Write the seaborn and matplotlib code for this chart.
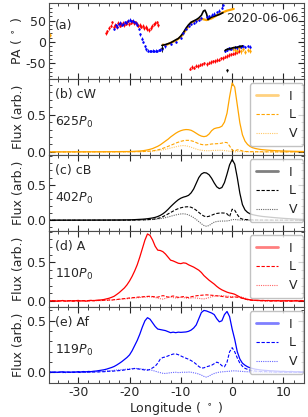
import numpy as np
import pandas as pd
import seaborn as sns
import matplotlib.pyplot as plt
from matplotlib.lines import Line2D
from matplotlib.ticker import MultipleLocator

sns.set_theme(style='ticks', rc={'xtick.direction': 'in', 'ytick.direction': 'in',
                                 'xtick.top': True, 'ytick.right': True,
                                 'xtick.minor.visible': True, 'ytick.minor.visible': True,
                                 'axes.unicode_minus': False})
plt.rcParams['font.family'] = ['DejaVu Sans']

# ---------------- PA (panel a) ----------------
red_lon = [-24.5, -24.3, -24.0, -23.7, -23.4, -23.1, -22.8, -22.5, -22.2, -21.9, -21.6, -21.3, -21.0,
           -20.7, -20.4, -20.1, -19.8, -19.5, -19.2, -18.9, -18.6, -18.3, -18.0, -17.7, -17.4, -17.1,
           -16.8, -16.5, -16.2, -15.9, -15.6, -15.3, -15.0, -14.7, -14.4,
           -8.2, -7.8, -7.4, -7.0, -6.6, -6.2, -5.8, -5.4, -5.0, -4.6, -4.2, -3.8, -3.4, -3.0, -2.6,
           -2.2, -1.8, -1.4, -1.0, -0.6, -0.2, 0.2, 0.6, 1.0, 1.4]
red_pa = [20, 25, 33, 38, 46, 36, 40, 35, 44, 38, 42, 45, 40, 43, 47, 42, 45, 48, 44, 46, 42, 38,
          40, 36, 38, 32, 35, 30, 28, 33, 38, 41, 44, 46, 40,
          -62, -58, -60, -55, -56, -53, -52, -50, -51, -48, -47, -45, -44, -42, -41, -38, -37, -34,
          -33, -30, -29, -27, -26, -24, -22]
blue_lon = [-23.0, -22.7, -22.4, -22.1, -21.8, -21.5, -21.2, -20.9, -20.6, -20.3, -20.0, -19.7, -19.4,
            -19.1, -18.8, -18.5, -18.2, -17.9, -17.6, -17.3, -17.0, -16.7, -16.4, -16.1, -15.8, -15.5,
            -15.2, -14.9, -14.6, -14.3, -14.0, -13.7, -13.0, -12.0, -11.0, -10.0, -9.5, -9.0, -8.5,
            -8.0, -7.5, -7.0, -6.5, -6.0, -5.0, -4.5, -4.0, -3.5, -3.0, -2.5, -2.0, -1.8,
            -1.4, -1.0, -0.6, -0.2, 0.2, 0.6, 1.0, 1.4, 1.8, 2.2, 2.6, 3.0, 3.4]
blue_pa = [30, 40, 36, 42, 45, 40, 43, 47, 45, 50, 52, 48, 50, 46, 45, 40, 30, 18, 8, 0, -10, -17,
           -20, -21, -21, -20, -21, -20, -21, -19, -18, -16, -10, -5, 0, 10, 20, 30, 38, 42, 45,
           48, 51, 55, 58, 60, 64, 66, 70, 73, 80, 86,
           -20, -18, -15, -16, -14, -12, -14, -10, -12, -10, -12, -9, -11]
black_hi_lon = [-13.7, -13.0, -12.0, -11.0, -10.5, -10.0, -9.5, -9.0, -8.5, -8.0, -7.5, -7.0, -6.5,
                -6.0, -5.6, -5.3, -5.0, -4.7, -4.4, -4.0, -3.5, -3.0, -2.5, -2.0, -1.8]
black_hi_pa = [-8, -6, -2, 5, 8, 14, 22, 32, 40, 46, 49, 52, 56, 62, 72, 74, 66, 52, 55, 58, 60,
               62, 64, 67, 68]
black_lo_lon = [-1.4, -1.0, -0.5, 0.0, 0.5, 1.0, 1.5, 2.0]
black_lo_pa = [-20, -17, -16, -14, -13, -12, -11, -9]
black_pt_lon = [-13.7, -1.0]
black_pt_pa = [-15, -66]
orange_hi_lon = [-13.5, -13.0, -12.0, -11.0, -10.0, -9.0, -8.0, -7.0, -6.0, -5.0, -4.0, -3.0,
                 -2.0, -1.0, 0.0, 0.3]
orange_hi_pa = [-6, -8, -2, 3, 12, 28, 45, 50, 54, 51, 55, 62, 68, 73, 76, 77]
orange_lo_lon = [-35.5, 0.2, 0.6, 1.0, 1.4, 1.8, 2.2, 2.6, 3.0, 3.4]
orange_lo_pa = [16, -15, -18, -20, -13, -22, -17, -24, -19, -20]

# ---------------- profiles (b, c) ----------------
lon_bc = [-36, -30, -25, -22] + list(np.arange(-20, 6.01, 0.5)) + [7, 8, 10, 12, 14]

cw_I = [0.0, 0.001, 0.002, 0.004,
        0.005, 0.006, 0.008, 0.01, 0.012, 0.015, 0.02, 0.027, 0.035, 0.045,
        0.06, 0.075, 0.095, 0.12, 0.145, 0.17, 0.2, 0.225, 0.25, 0.27,
        0.285, 0.295, 0.3, 0.298, 0.29, 0.272, 0.25, 0.228, 0.212, 0.205,
        0.212, 0.24, 0.285, 0.312, 0.322, 0.328, 0.345, 0.4, 0.52, 0.74,
        0.925, 0.87, 0.63, 0.39, 0.23, 0.145, 0.1, 0.072, 0.056, 0.046,
        0.039, 0.033, 0.029,
        0.023, 0.018, 0.012, 0.008, 0.005]
cw_L = [0.0, 0.0, 0.001, 0.001,
        0.002, 0.002, 0.003, 0.003, 0.004, 0.005, 0.006, 0.008, 0.01, 0.014,
        0.02, 0.027, 0.036, 0.048, 0.06, 0.074, 0.088, 0.102, 0.118, 0.13,
        0.142, 0.15, 0.155, 0.155, 0.15, 0.14, 0.125, 0.11, 0.1, 0.094,
        0.095, 0.1, 0.106, 0.108, 0.11, 0.112, 0.118, 0.128, 0.125, 0.08,
        0.025, 0.012, 0.028, 0.025, 0.012, 0.006, 0.004, 0.003, 0.003, 0.002,
        0.002, 0.002, 0.001,
        0.001, 0.001, 0.0, 0.0, 0.0]
cw_V = [0.0, 0.0, 0.0, 0.0,
        0.001, 0.001, 0.002, 0.002, 0.003, 0.004, 0.005, 0.006, 0.008, 0.01,
        0.013, 0.017, 0.022, 0.028, 0.035, 0.043, 0.052, 0.06, 0.068, 0.076,
        0.082, 0.085, 0.082, 0.074, 0.062, 0.05, 0.038, 0.028, 0.022, 0.018,
        0.016, 0.016, 0.018, 0.02, 0.021, 0.022, 0.021, 0.018, 0.014, 0.008,
        0.003, 0.001, 0.004, 0.006, 0.004, 0.002, 0.001, 0.001, 0.0, 0.0,
        0.0, 0.0, 0.0,
        0.0, 0.0, 0.0, 0.0, 0.0]

cb_I = [0.0, 0.001, 0.002, 0.003,
        0.005, 0.006, 0.008, 0.01, 0.012, 0.014, 0.017, 0.021, 0.026, 0.032,
        0.04, 0.052, 0.068, 0.09, 0.118, 0.152, 0.19, 0.225, 0.258, 0.288,
        0.31, 0.325, 0.335, 0.35, 0.385, 0.44, 0.52, 0.6, 0.65, 0.67,
        0.665, 0.64, 0.59, 0.525, 0.47, 0.445, 0.46, 0.53, 0.65, 0.78,
        0.855, 0.79, 0.6, 0.38, 0.22, 0.145, 0.11, 0.09, 0.078, 0.07,
        0.063, 0.057, 0.052,
        0.045, 0.038, 0.026, 0.017, 0.011]
cb_L = [0.0, 0.0, 0.001, 0.001,
        0.001, 0.002, 0.002, 0.003, 0.004, 0.005, 0.006, 0.008, 0.01, 0.013,
        0.018, 0.025, 0.035, 0.05, 0.068, 0.088, 0.108, 0.128, 0.148, 0.163,
        0.175, 0.183, 0.188, 0.19, 0.182, 0.165, 0.14, 0.11, 0.08, 0.058,
        0.048, 0.055, 0.07, 0.085, 0.095, 0.1, 0.102, 0.1, 0.09, 0.05,
        0.155, 0.14, 0.08, 0.03, 0.015, 0.01, 0.007, 0.005, 0.004, 0.003,
        0.003, 0.002, 0.002,
        0.002, 0.001, 0.001, 0.0, 0.0]
cb_V = [0.0, 0.0, 0.0, 0.0,
        0.001, 0.001, 0.002, 0.002, 0.003, 0.004, 0.005, 0.006, 0.008, 0.01,
        0.013, 0.017, 0.022, 0.028, 0.036, 0.045, 0.055, 0.065, 0.074, 0.082,
        0.088, 0.09, 0.086, 0.075, 0.058, 0.036, 0.01, -0.02, -0.05, -0.075,
        -0.085, -0.075, -0.05, -0.028, -0.018, -0.014, -0.012, -0.012, -0.01, -0.004,
        0.008, 0.01, 0.006, 0.003, 0.002, 0.001, 0.001, 0.0, 0.0, 0.0,
        0.0, 0.0, 0.0,
        0.0, 0.0, 0.0, 0.0, 0.0]

# ---------------- profiles (d, e) ----------------
lon_de = np.arange(-36, 14.01, 0.5)

a_I = [0.004, -0.002, 0.006, 0.001, -0.004, 0.003, 0.007, -0.001, 0.002, 0.005,
       -0.003, 0.004, 0.008, 0.001, 0.005, -0.002, 0.006, 0.009, 0.004, 0.01,
       0.012, 0.015, 0.02, 0.028, 0.036, 0.048, 0.062, 0.085, 0.11, 0.14,
       0.17, 0.21, 0.26, 0.32, 0.39, 0.47, 0.57, 0.68, 0.79, 0.87,
       0.85, 0.79, 0.71, 0.66, 0.655, 0.64, 0.61, 0.57, 0.53, 0.52,
       0.505, 0.49, 0.485, 0.495, 0.49, 0.47, 0.455, 0.44, 0.42, 0.4,
       0.37, 0.33, 0.3, 0.27, 0.245, 0.22, 0.19, 0.165, 0.145, 0.13,
       0.115, 0.105, 0.098, 0.088, 0.07, 0.052, 0.038, 0.028, 0.02, 0.016,
       0.012, 0.009, 0.011, 0.006, 0.008, 0.004, 0.007, 0.002, 0.005, 0.003,
       0.006, -0.001, 0.004, 0.002, 0.005, -0.003, 0.003, 0.006, 0.0, 0.004,
       0.002]
a_L = [0.003, 0.006, -0.002, 0.004, 0.007, 0.0, 0.005, -0.003, 0.004, 0.002,
       0.006, 0.001, -0.002, 0.005, 0.003, 0.007, 0.002, 0.004, 0.008, 0.005,
       0.009, 0.006, 0.011, 0.008, 0.014, 0.012, 0.018, 0.02, 0.024, 0.028,
       0.032, 0.035, 0.04, 0.043, 0.046, 0.05, 0.052, 0.055, 0.058, 0.06,
       0.062, 0.058, 0.055, 0.05, 0.062, 0.07, 0.064, 0.05, 0.058, 0.066,
       0.055, 0.048, 0.052, 0.058, 0.05, 0.046, 0.055, 0.062, 0.068, 0.072,
       0.075, 0.078, 0.08, 0.078, 0.075, 0.072, 0.068, 0.065, 0.06, 0.055,
       0.05, 0.048, 0.05, 0.053, 0.05, 0.045, 0.035, 0.025, 0.018, 0.012,
       0.008, 0.01, 0.005, 0.007, 0.002, 0.006, 0.004, 0.001, 0.005, 0.003,
       0.004, 0.0, 0.006, 0.002, -0.001, 0.005, 0.003, 0.001, 0.004, 0.002,
       0.003]
a_V = [-0.003, 0.002, 0.005, -0.001, 0.003, -0.004, 0.001, 0.004, -0.002, 0.003,
       0.0, 0.005, -0.003, 0.002, 0.004, -0.001, 0.003, 0.006, 0.001, 0.004,
       0.006, 0.005, 0.009, 0.01, 0.013, 0.012, 0.016, 0.018, 0.022, 0.025,
       0.028, 0.03, 0.034, 0.037, 0.04, 0.042, 0.046, 0.048, 0.05, 0.053,
       0.055, 0.05, 0.045, 0.038, 0.03, 0.025, 0.035, 0.048, 0.052, 0.045,
       0.04, 0.042, 0.05, 0.045, 0.038, 0.035, 0.04, 0.044, 0.038, 0.035,
       0.03, 0.028, 0.035, 0.045, 0.055, 0.062, 0.066, 0.068, 0.07, 0.068,
       0.065, 0.06, 0.056, 0.055, 0.052, 0.056, 0.05, 0.04, 0.028, 0.018,
       0.012, 0.008, 0.006, 0.002, 0.005, -0.001, 0.004, 0.002, -0.002, 0.003,
       0.001, 0.004, -0.002, 0.003, 0.0, 0.002, -0.003, 0.004, 0.001, 0.002,
       0.0]

af_I = [0.003, 0.006, 0.002, 0.005, 0.001, 0.004, 0.007, 0.003, 0.005, 0.002,
        0.006, 0.004, 0.008, 0.005, 0.009, 0.006, 0.01, 0.008, 0.012, 0.014,
        0.018, 0.022, 0.026, 0.032, 0.04, 0.048, 0.058, 0.072, 0.088, 0.105,
        0.125, 0.145, 0.17, 0.21, 0.26, 0.31, 0.37, 0.44, 0.5, 0.53,
        0.515, 0.48, 0.445, 0.42, 0.415, 0.41, 0.405, 0.395, 0.385, 0.39,
        0.385, 0.39, 0.388, 0.39, 0.392, 0.398, 0.41, 0.43, 0.46, 0.52,
        0.58, 0.6, 0.595, 0.585, 0.575, 0.56, 0.52, 0.49, 0.5, 0.56,
        0.59, 0.54, 0.42, 0.32, 0.2, 0.13, 0.09, 0.07, 0.055, 0.045,
        0.038, 0.032, 0.028, 0.025, 0.022, 0.02, 0.018, 0.016, 0.015, 0.013,
        0.012, 0.01, 0.011, 0.009, 0.008, 0.01, 0.007, 0.006, 0.008, 0.005,
        0.006]
af_L = [0.002, -0.001, 0.003, 0.0, 0.002, 0.004, -0.001, 0.002, 0.001, 0.003,
        0.0, 0.003, 0.002, -0.001, 0.004, 0.002, 0.003, 0.005, 0.004, 0.006,
        0.005, 0.008, 0.007, 0.01, 0.012, 0.011, 0.014, 0.016, 0.018, 0.02,
        0.024, 0.028, 0.03, 0.034, 0.038, 0.035, 0.032, 0.028, 0.024, 0.022,
        0.03, 0.045, 0.06, 0.09, 0.13, 0.145, 0.15, 0.16, 0.17, 0.178,
        0.18, 0.172, 0.16, 0.148, 0.138, 0.128, 0.115, 0.1, 0.08, 0.058,
        0.042, 0.045, 0.055, 0.062, 0.07, 0.085, 0.1, 0.09, 0.065, 0.055,
        0.1, 0.2, 0.24, 0.2, 0.14, 0.09, 0.06, 0.04, 0.03, 0.022,
        0.018, 0.014, 0.012, 0.01, 0.008, 0.009, 0.006, 0.007, 0.005, 0.004,
        0.005, 0.003, 0.004, 0.002, 0.003, 0.001, 0.003, 0.002, 0.0, 0.002,
        0.001]
af_V = [0.001, -0.002, 0.002, 0.0, -0.001, 0.003, 0.001, -0.002, 0.002, 0.0,
        0.002, 0.001, 0.003, 0.0, 0.004, 0.002, 0.005, 0.004, 0.006, 0.007,
        0.008, 0.01, 0.012, 0.014, 0.016, 0.018, 0.021, 0.024, 0.026, 0.028,
        0.03, 0.032, 0.035, 0.038, 0.04, 0.038, 0.036, 0.034, 0.03, 0.028,
        0.025, 0.02, 0.012, 0.005, -0.002, -0.008, -0.01, -0.006, -0.002, 0.0,
        0.002, -0.001, 0.0, 0.003, 0.001, 0.004, 0.002, -0.003, -0.008, -0.015,
        -0.025, -0.038, -0.045, -0.035, -0.02, -0.01, -0.002, 0.003, 0.006, 0.008,
        0.01, 0.012, 0.015, 0.016, 0.014, 0.012, 0.01, 0.008, 0.007, 0.006,
        0.005, 0.004, 0.006, 0.003, 0.004, 0.002, 0.003, 0.001, 0.002, 0.0,
        0.001, 0.002, 0.0, 0.001, -0.001, 0.002, 0.0, 0.001, 0.0, 0.001,
        0.0]

panels = [
    ('(b) cW', '625$P_0$', 'orange', lon_bc, cw_I, cw_L, cw_V, (-0.04, 0.98)),
    ('(c) cB', '402$P_0$', 'black', lon_bc, cb_I, cb_L, cb_V, (-0.15, 0.92)),
    ('(d) A', '110$P_0$', 'red', lon_de, a_I, a_L, a_V, (-0.075, 0.91)),
    ('(e) Af', '119$P_0$', 'blue', lon_de, af_I, af_L, af_V, (-0.1, 0.635)),
]
fs = 9

fig, axes = plt.subplots(5, 1, figsize=(3.08, 4.17), dpi=100, sharex=True)
fig.subplots_adjust(left=0.159, right=0.987, top=0.993, bottom=0.082, hspace=0)

# panel a
ax = axes[0]
ekw = dict(fmt='.', ms=1.5, elinewidth=0.6, capsize=0)
ax.errorbar(red_lon, red_pa, yerr=4, color='red', **ekw)
ax.errorbar(blue_lon, blue_pa, yerr=3, color='blue', **ekw)
ax.errorbar(orange_lo_lon, orange_lo_pa, yerr=5, color='orange', **ekw)
ax.errorbar(black_lo_lon, black_lo_pa, yerr=3, color='black', fmt='-', lw=1.2, elinewidth=0.6)
ax.errorbar(black_pt_lon, black_pt_pa, yerr=[8, 4], color='black', **ekw)
sns.lineplot(x=orange_hi_lon, y=orange_hi_pa, color='orange', lw=1.6, ax=ax)
sns.lineplot(x=black_hi_lon, y=black_hi_pa, color='black', lw=1.2, ax=ax)
ax.set_ylim(-86, 91)
ax.set_ylabel('PA ( $^\\circ$ )', fontsize=fs, labelpad=1)
ax.set_yticks([-50, 0, 50])
ax.yaxis.set_minor_locator(MultipleLocator(10))
ax.text(0.025, 0.7, '(a)', transform=ax.transAxes, fontsize=fs, va='center')
ax.text(0.978, 0.8, '2020-06-06', transform=ax.transAxes, fontsize=fs, va='center', ha='right')

for ax, (lab, npl, col, lon, I, L, V, yl) in zip(axes[1:], panels):
    df = pd.DataFrame({'lon': lon, 'I': I, 'L': L, 'V': V})
    sns.lineplot(data=df, x='lon', y='I', color=col, lw=0.9, ax=ax)
    sns.lineplot(data=df, x='lon', y='L', color=col, lw=0.8, ls=(0, (3, 1.5)), ax=ax)
    sns.lineplot(data=df, x='lon', y='V', color=col, lw=0.8, ls=(0, (1, 1)), alpha=0.6, ax=ax)
    ax.set_ylim(*yl)
    ax.set_yticks([0.0, 0.5])
    ax.yaxis.set_minor_locator(MultipleLocator(0.1))
    ax.set_ylabel('Flux (arb.)', fontsize=fs, labelpad=1)
    ax.text(0.025, 0.8, lab, transform=ax.transAxes, fontsize=fs, va='center')
    ax.text(0.025, 0.43, npl, transform=ax.transAxes, fontsize=fs, va='center')
    handles = [Line2D([], [], color=col, lw=2, alpha=0.5),
               Line2D([], [], color=col, lw=0.8, ls=(0, (3, 1.5))),
               Line2D([], [], color=col, lw=0.8, ls=(0, (1, 1)), alpha=0.6)]
    ax.legend(handles, ['I', 'L', 'V'], loc='upper right', bbox_to_anchor=(0.997, 0.94),
              fontsize=9, handlelength=1.8, borderpad=0.5, labelspacing=0.45,
              handletextpad=0.8, borderaxespad=0, edgecolor='0.7')

for ax in axes:
    ax.set_xlim(-35.7, 14)
    ax.xaxis.set_major_locator(MultipleLocator(10))
    ax.xaxis.set_minor_locator(MultipleLocator(2))
    ax.tick_params(which='major', length=4, width=0.8, labelsize=fs, pad=2)
    ax.tick_params(which='minor', length=2, width=0.6)
    for s in ax.spines.values():
        s.set_linewidth(0.8)
        s.set_color('0.3')

axes[-1].set_xlabel('Longitude ( $^\\circ$ )', fontsize=fs, labelpad=1)
fig.savefig('out.png', dpi=100)
